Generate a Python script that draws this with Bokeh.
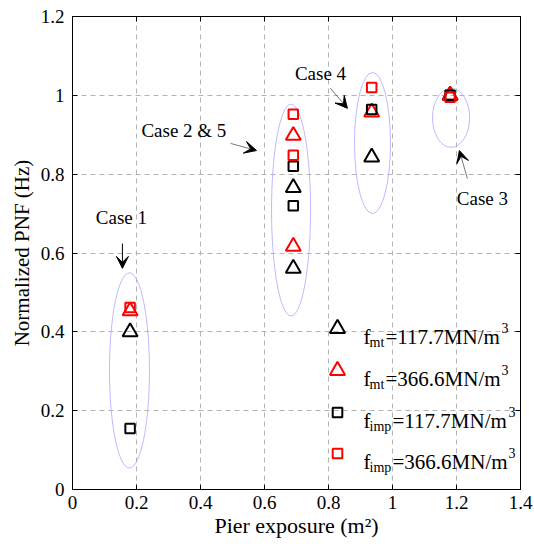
from bokeh.plotting import figure
from bokeh.models import (Range1d, FixedTicker, LinearAxis, Label, Arrow, VeeHead,
                          Legend, LegendItem)
from bokeh.embed import file_html
from bokeh.resources import INLINE
from bokeh.core.properties import value

# ---------------- data ----------------
cases = ["Case 1", "Case 2", "Case 5", "Case 4", "Case 3"]
exposure = [0.18, 0.69, 0.69, 0.935, 1.18]          # pier exposure (m^2)
fmt_117 = [0.400, 0.766, 0.561, 0.843, 1.0]          # f_mt = 117.7 MN/m^3
fmt_366 = [0.453, 0.898, 0.617, 0.957, 1.0]          # f_mt = 366.6 MN/m^3
fimp_117 = [0.155, 0.820, 0.720, 0.964, 1.0]         # f_imp = 117.7 MN/m^3
fimp_366 = [0.462, 0.952, 0.848, 1.020, 0.995]       # f_imp = 366.6 MN/m^3

x_ticks = [0, 0.2, 0.4, 0.6, 0.8, 1, 1.2, 1.4]
x_tick_labels = ["0", "0.2", "0.4", "0.6", "0.8", "1", "1.2", "1.4"]
y_ticks = [0, 0.2, 0.4, 0.6, 0.8, 1, 1.2]
y_tick_labels = ["0", "0.2", "0.4", "0.6", "0.8", "1", "1.2"]

# group ellipses (data units)
ell_x = [0.178, 0.683, 0.9375, 1.183]
ell_y = [0.302, 0.709, 0.879, 0.943]
ell_w = [0.125, 0.122, 0.1125, 0.116]
ell_h = [0.495, 0.538, 0.358, 0.150]

# case annotations
case_text = ["Case 1", "Case 2 & 5", "Case 4", "Case 3"]
case_tx = [0.153, 0.348, 0.775, 1.281]
case_ty = [0.690, 0.911, 1.056, 0.739]
arr_x0 = [0.156, 0.494, 0.806, 1.234]
arr_y0 = [0.624, 0.878, 1.018, 0.789]
arr_x1 = [0.156, 0.575, 0.859, 1.209]
arr_y1 = [0.561, 0.860, 0.967, 0.860]

FONT = "Liberation Serif"

p = figure(width=534, height=550, x_range=Range1d(0, 1.4), y_range=Range1d(0, 1.2),
           output_backend="svg", toolbar_location=None,
           min_border_left=72, min_border_right=14, min_border_top=16, min_border_bottom=61)
p.background_fill_color = "white"
p.border_fill_color = "white"
p.outline_line_color = "black"
p.outline_line_width = 1

p.xaxis.axis_label = "Pier exposure (m²)"
p.yaxis.axis_label = "Normalized PNF (Hz)"
p.axis.major_label_text_font = FONT
p.axis.axis_label_text_font = FONT

for ax, ticks, labs in ((p.xaxis[0], x_ticks, x_tick_labels), (p.yaxis[0], y_ticks, y_tick_labels)):
    ax.ticker = FixedTicker(ticks=ticks)
    ax.major_label_overrides = {t: l for t, l in zip(ticks, labs)}
    ax.major_tick_in = 5
    ax.major_tick_out = 0
    ax.minor_tick_line_color = None
    ax.axis_line_color = "black"
    ax.major_tick_line_color = "black"
    ax.major_label_text_font_size = "19px"
    ax.major_label_text_color = "black"
    ax.axis_label_text_font_size = "21px"
    ax.axis_label_text_font_style = "normal"
    ax.axis_label_text_color = "black"

p.xaxis[0].axis_label_text_font_size = "22px"
p.xaxis[0].major_label_standoff = 6
p.xaxis[0].axis_label_standoff = 1
p.yaxis[0].major_label_standoff = 8
p.yaxis[0].axis_label_standoff = 4

for loc, ticks in (("above", x_ticks), ("right", y_ticks)):
    ax = LinearAxis(ticker=FixedTicker(ticks=ticks), major_tick_in=5, major_tick_out=0,
                    minor_tick_line_color=None, major_label_text_font_size="1px",
                    major_label_text_color=None, major_label_standoff=0,
                    axis_line_color="black", major_tick_line_color="black")
    p.add_layout(ax, loc)

p.xgrid.ticker = FixedTicker(ticks=x_ticks)
p.ygrid.ticker = FixedTicker(ticks=y_ticks)
p.grid.grid_line_color = "#b3b3b3"
p.grid.grid_line_dash = "5 4"
p.grid.grid_line_width = 1

# ellipses
p.ellipse(x=ell_x, y=ell_y, width=ell_w, height=ell_h, fill_color=None,
          line_color="#a8a8ff", line_width=0.8)

# markers
r_bt = p.scatter(exposure, fmt_117, marker="triangle", size=15, fill_color=None,
                 line_color="black", line_width=2)
r_rt = p.scatter(exposure, fmt_366, marker="triangle", size=15, fill_color=None,
                 line_color="red", line_width=2)
r_bs = p.scatter(exposure, fimp_117, marker="square", size=9.5, fill_color=None,
                 line_color="black", line_width=2)
r_rs = p.scatter(exposure, fimp_366, marker="square", size=9.5, fill_color=None,
                 line_color="red", line_width=2)

# arrows and case labels
for i in range(len(case_text)):
    col = "black" if i == 0 else "#555555"
    p.add_layout(Arrow(end=VeeHead(size=12, fill_color="black", line_color="black", line_width=1),
                       x_start=arr_x0[i], y_start=arr_y0[i], x_end=arr_x1[i], y_end=arr_y1[i],
                       line_color=col, line_width=1 if i == 0 else 0.8))
    p.add_layout(Label(x=case_tx[i], y=case_ty[i], text=case_text[i], text_font=FONT,
                       text_font_size="19px", text_align="center", text_baseline="middle",
                       text_color="black"))

# legend markers
common = dict(padding=0, margin=0, border_line_color=None, background_fill_alpha=0,
              label_standoff=0, label_width=0, label_height=0,
              label_text_font_size="1px", label_text_color=None)
leg_a = Legend(items=[LegendItem(label=value(" "), renderers=[r_bt]),
                      LegendItem(label=value(" "), renderers=[r_rt])],
               location=(246, 100), glyph_width=38, glyph_height=38, spacing=4, **common)
leg_b = Legend(items=[LegendItem(label=value(" "), renderers=[r_bs]),
                      LegendItem(label=value(" "), renderers=[r_rs])],
               location=(253, 24), glyph_width=24, glyph_height=24, spacing=17, **common)
p.add_layout(leg_a)
p.add_layout(leg_b)

# legend texts (screen units relative to frame)
leg_sub = ["mt", "mt", "imp", "imp"]
leg_val = ["=117.7MN/m", "=366.6MN/m", "=117.7MN/m", "=366.6MN/m"]
leg_base = [153, 111, 69, 28]
f_x = 291
for i in range(4):
    sub_w = 16 if leg_sub[i] == "mt" else 23
    main_x = f_x + 6 + sub_w
    parts = [(f_x, leg_base[i], "f", "21px"),
             (f_x + 6, leg_base[i] - 6, leg_sub[i], "14px"),
             (main_x, leg_base[i], leg_val[i], "21px"),
             (main_x + 116, leg_base[i] + 9, "3", "14px")]
    for x, y, t, fs in parts:
        p.add_layout(Label(x=x, y=y, x_units="screen", y_units="screen", text=t,
                           text_font=FONT, text_font_size=fs, text_align="left",
                           text_baseline="alphabetic", text_color="black"))

open("out.html", "w").write(file_html(p, INLINE))
